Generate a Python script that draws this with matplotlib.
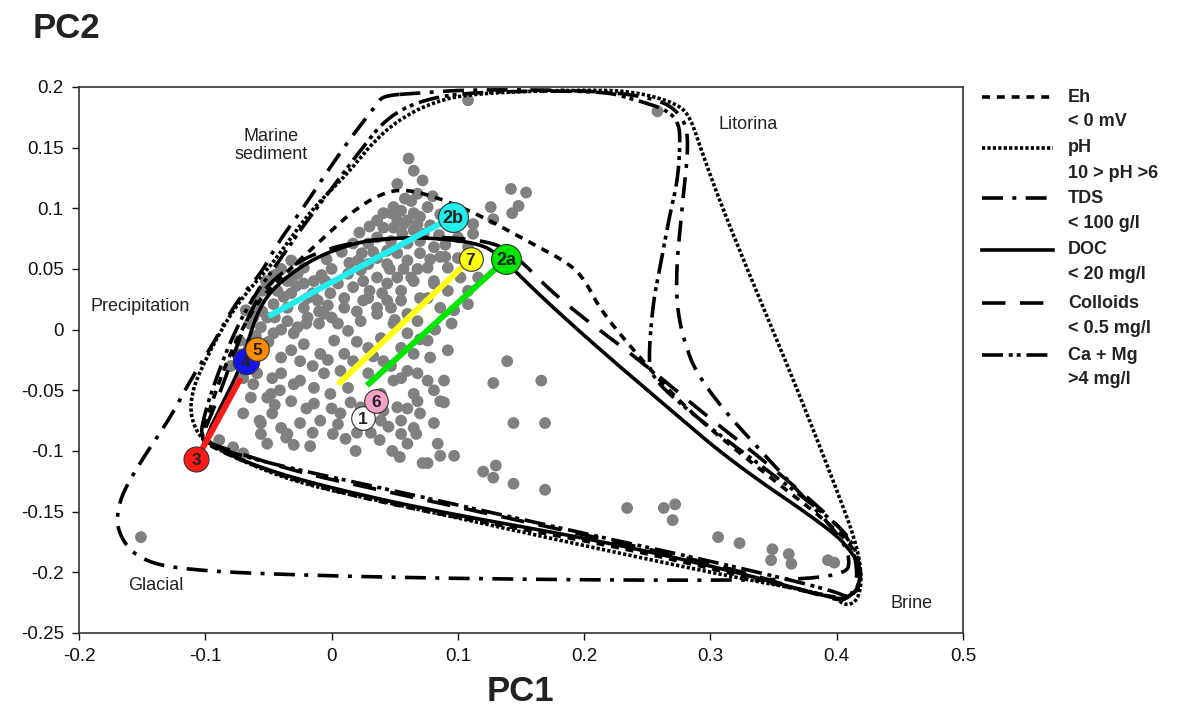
import numpy as np
import matplotlib.pyplot as plt
from matplotlib.lines import Line2D

plt.rcParams['font.family'] = ['Liberation Sans', 'DejaVu Sans']

# groundwater sample scores on the first two principal components
pc1 = [-0.151, 0.108, 0.258,
       0.061, 0.065, 0.052, 0.068, 0.063, 0.047, 0.055, 0.065, 0.076, 0.057,
       0.068, 0.073, 0.049, 0.041, 0.036, 0.041, 0.049, 0.052, 0.060, 0.065,
       0.036, 0.029, 0.047, 0.060, 0.070, 0.081, 0.017, 0.021, 0.029, 0.036,
       0.044, 0.052, 0.060, 0.063, 0.052, 0.044, 0.036, 0.025, 0.017, 0.010,
       0.025, 0.036, 0.047, 0.055, 0.060,
       0.142, 0.154, 0.126, 0.148, 0.143, 0.128, 0.112, 0.112, 0.100, 0.108,
       0.100, 0.092, 0.102, 0.116, 0.108, 0.092, 0.081, 0.076, 0.086, 0.097,
       0.108, 0.068, 0.060, 0.076, 0.055, 0.065, 0.092, 0.089, 0.081, 0.068,
       0.055, 0.068, 0.086, 0.070, 0.055, 0.039, 0.041, 0.139, 0.166, 0.128,
       0.144, 0.169, 0.089, 0.060, 0.067, 0.084, 0.086, 0.097, 0.076, 0.120,
       0.130, 0.128, 0.144, 0.169, 0.234, 0.263, 0.272, 0.270, 0.306, 0.323,
       0.349, 0.348, 0.362, 0.364, 0.393, 0.398,
       -0.032, -0.022, -0.027, -0.035, -0.022, -0.014, -0.043, -0.032, -0.019, -0.046,
       -0.035, -0.022, -0.011, -0.001, 0.005, 0.013, 0.023, 0.029, 0.010, -0.006,
       -0.019, -0.035, -0.051, -0.056, -0.046, -0.030, -0.022, -0.032, -0.040, -0.025,
       -0.009, 0.002, 0.013, 0.023, 0.036, 0.044, 0.055, 0.065, 0.076, 0.081,
       0.070, 0.049, 0.039, 0.029, 0.017, 0.007, -0.006, -0.014, -0.025, -0.040,
       -0.048, -0.032, -0.014, -0.001, 0.013, 0.029, 0.041, 0.078, 0.060, 0.049,
       0.039, 0.023, 0.007, -0.009, -0.025, -0.040, -0.056, -0.064, -0.059, -0.070,
       -0.056, -0.035, 0.052, 0.065, 0.076, 0.081, 0.065, 0.055,
       -0.059, -0.065, -0.073, -0.047, -0.041, -0.051, -0.047, -0.057, -0.051, -0.089,
       -0.078, -0.070, -0.036, 0.001, 0.011, 0.038, 0.048, 0.054, 0.072, -0.017,
       0.019, 0.031, -0.055, -0.050, -0.060, -0.068, -0.075, -0.080,
       0.072, 0.058, 0.070, 0.078, 0.085, 0.090, 0.056, 0.044, 0.033, 0.024,
       0.070, 0.078, 0.086, 0.046, 0.057, 0.068, 0.030, 0.040, 0.050, 0.020,
       0.014, 0.008, 0.000, -0.008, -0.004, 0.030, 0.022, 0.080, 0.086, 0.098,
       -0.040, -0.045, -0.052, -0.038, -0.028, -0.015, -0.005, -0.010, -0.003, 0.005,
       -0.027, -0.040, -0.050, -0.060, -0.015, -0.030, -0.045, -0.020, 0.000, 0.015,
       0.005, -0.015, -0.030, 0.020, 0.045, 0.060, 0.047, 0.033, 0.020, 0.010,
       -0.003, 0.070, 0.082, 0.095, 0.090,
       -0.055, -0.062, -0.066, -0.070, -0.062, -0.045, -0.030, -0.020, -0.010, 0.000]
pc2 = [-0.171, 0.189, 0.180,
       0.141, 0.131, 0.120, 0.112, 0.106, 0.096, 0.098, 0.096, 0.101, 0.087,
       0.087, 0.079, 0.084, 0.084, 0.090, 0.096, 0.101, 0.090, 0.090, 0.082,
       0.076, 0.071, 0.073, 0.071, 0.073, 0.068, 0.071, 0.057, 0.054, 0.059,
       0.054, 0.063, 0.057, 0.043, 0.043, 0.038, 0.043, 0.040, 0.035, 0.026,
       0.024, 0.018, 0.018, 0.024, 0.013,
       0.116, 0.113, 0.101, 0.102, 0.096, 0.091, 0.087, 0.079, 0.076, 0.068,
       0.059, 0.051, 0.043, 0.043, 0.032, 0.032, 0.038, 0.026, 0.018, 0.016,
       0.021, 0.007, -0.003, -0.009, -0.015, -0.020, -0.017, -0.042, -0.050, -0.036,
       -0.040, -0.059, -0.059, -0.069, -0.075, -0.075, -0.067, -0.026, -0.042, -0.044,
       -0.077, -0.077, -0.060, -0.094, -0.086, -0.094, -0.104, -0.104, -0.110, -0.117,
       -0.112, -0.122, -0.127, -0.132, -0.147, -0.147, -0.144, -0.157, -0.171, -0.176,
       -0.181, -0.190, -0.185, -0.193, -0.190, -0.192,
       0.057, 0.051, 0.046, 0.040, 0.038, 0.040, 0.032, 0.030, 0.026, 0.021,
       0.018, 0.018, 0.024, 0.030, 0.038, 0.046, 0.049, 0.026, 0.018, 0.013,
       0.010, 0.007, 0.010, 0.002, -0.003, -0.003, -0.012, -0.017, -0.023, -0.026,
       -0.020, -0.009, -0.001, 0.007, 0.013, 0.024, 0.032, 0.040, 0.051, 0.040,
       0.026, 0.005, -0.007, -0.015, -0.026, -0.034, -0.036, -0.048, -0.042, -0.036,
       -0.053, -0.059, -0.061, -0.053, -0.048, -0.036, -0.026, -0.023, -0.034, -0.042,
       -0.053, -0.064, -0.069, -0.075, -0.077, -0.081, -0.077, -0.056, -0.036, -0.069,
       -0.086, -0.086, -0.064, -0.053, -0.042, -0.077, -0.081, -0.086,
       0.018, 0.005, -0.009, -0.040, -0.050, -0.056, -0.069, -0.075, -0.094, -0.091,
       -0.097, -0.102, -0.089, -0.086, -0.090, -0.091, -0.100, -0.105, -0.110, -0.096,
       -0.100, -0.085, 0.032, 0.040, 0.024, 0.016, -0.020, -0.030,
       0.123, 0.108, 0.093, 0.086, 0.078, 0.070, 0.079, 0.065, 0.064, 0.063,
       0.063, 0.058, 0.060, 0.050, 0.050, 0.050, 0.032, 0.030, 0.008, 0.015,
       0.055, 0.064, 0.050, 0.045, 0.058, 0.085, 0.080, 0.110, 0.095, 0.088,
       0.050, 0.045, 0.040, 0.027, 0.036, 0.030, 0.040, 0.005, 0.020, 0.005,
       0.002, 0.000, -0.010, -0.005, -0.030, -0.045, -0.062, -0.065, -0.065, -0.060,
       -0.078, -0.085, -0.095, -0.085, -0.080, -0.065, -0.030, -0.022, -0.010, -0.020,
       -0.025, -0.008, 0.000, 0.005, 0.060,
       0.015, 0.010, -0.012, -0.040, -0.045, 0.010, 0.045, 0.005, 0.015, 0.010]

# envelopes of the parameter limits (PC1, PC2 vertices)
eh_env = [(-0.104, -0.090), (-0.097, -0.067), (-0.086, -0.034), (-0.072, -0.001),
          (-0.055, 0.028), (-0.032, 0.051), (-0.006, 0.076), (0.017, 0.098),
          (0.039, 0.112), (0.057, 0.116), (0.084, 0.109), (0.118, 0.094),
          (0.155, 0.073), (0.189, 0.054), (0.201, 0.040), (0.213, 0.016),
          (0.239, -0.017), (0.279, -0.064), (0.340, -0.116), (0.397, -0.162),
          (0.415, -0.182), (0.420, -0.203), (0.415, -0.219), (0.399, -0.222),
          (0.318, -0.201), (0.213, -0.176), (0.078, -0.151), (-0.015, -0.129),
          (-0.067, -0.110), (-0.096, -0.096)]
ph_env = [(-0.100, -0.093), (-0.108, -0.082), (-0.112, -0.067), (-0.110, -0.050),
          (-0.104, -0.034), (-0.092, -0.009), (-0.078, 0.016), (-0.063, 0.036),
          (-0.048, 0.053), (-0.032, 0.076), (-0.014, 0.101), (0.013, 0.129),
          (0.029, 0.150), (0.049, 0.170), (0.076, 0.186), (0.110, 0.195),
          (0.213, 0.198), (0.245, 0.195), (0.274, 0.186), (0.284, 0.175),
          (0.292, 0.150), (0.308, 0.104), (0.333, 0.040), (0.366, -0.042),
          (0.397, -0.124), (0.415, -0.174), (0.420, -0.203), (0.417, -0.223),
          (0.407, -0.228), (0.397, -0.219), (0.318, -0.204), (0.213, -0.181),
          (0.055, -0.145), (-0.025, -0.127), (-0.072, -0.108)]
tds_env = [(0.041, 0.193), (0.070, 0.195), (0.110, 0.198), (0.213, 0.197),
           (0.260, 0.190), (0.278, 0.176), (0.283, 0.156), (0.278, 0.106),
           (0.272, 0.040), (0.276, -0.001), (0.292, -0.045), (0.359, -0.122),
           (0.397, -0.163), (0.411, -0.186), (0.407, -0.205), (0.292, -0.207),
           (0.078, -0.205), (-0.067, -0.201), (-0.120, -0.197), (-0.144, -0.192),
           (-0.160, -0.182), (-0.169, -0.166), (-0.170, -0.152), (-0.165, -0.133),
           (-0.147, -0.102), (-0.128, -0.073), (-0.112, -0.042), (-0.094, -0.012),
           (-0.075, 0.024), (-0.056, 0.046), (-0.043, 0.071), (-0.022, 0.101),
           (-0.003, 0.131), (0.015, 0.158), (0.036, 0.186)]
doc_env = [(-0.100, -0.090), (-0.088, -0.064), (-0.072, -0.031), (-0.063, 0.002),
           (-0.054, 0.024), (-0.040, 0.040), (-0.014, 0.059), (0.017, 0.071),
           (0.039, 0.075), (0.078, 0.076), (0.118, 0.071), (0.134, 0.060),
           (0.165, 0.028), (0.213, -0.017), (0.266, -0.064), (0.318, -0.110),
           (0.397, -0.166), (0.413, -0.185), (0.419, -0.197), (0.417, -0.214),
           (0.407, -0.222), (0.395, -0.221), (0.318, -0.199), (0.213, -0.174),
           (0.078, -0.149), (-0.015, -0.127), (-0.067, -0.110), (-0.097, -0.094)]
colloid_env = [(-0.104, -0.091), (-0.094, -0.067), (-0.082, -0.034), (-0.068, 0.007),
               (-0.055, 0.032), (-0.036, 0.050), (-0.009, 0.065), (0.023, 0.073),
               (0.078, 0.077), (0.126, 0.073), (0.146, 0.061), (0.181, 0.024),
               (0.245, -0.026), (0.292, -0.067), (0.340, -0.106), (0.397, -0.156),
               (0.413, -0.178), (0.417, -0.207), (0.409, -0.223), (0.395, -0.222),
               (0.318, -0.197), (0.213, -0.172), (0.055, -0.136), (-0.025, -0.118),
               (-0.076, -0.101)]
camg_env = [(-0.105, -0.092), (-0.100, -0.067), (-0.092, -0.042), (-0.080, -0.009),
            (-0.064, 0.024), (-0.044, 0.053), (-0.025, 0.082), (-0.001, 0.115),
            (0.023, 0.148), (0.043, 0.174), (0.070, 0.189), (0.110, 0.196),
            (0.213, 0.197), (0.239, 0.190), (0.266, 0.181), (0.275, 0.170),
            (0.276, 0.154), (0.274, 0.123), (0.268, 0.096), (0.260, 0.051),
            (0.255, 0.026), (0.251, -0.020), (0.253, -0.040), (0.292, -0.075),
            (0.340, -0.112), (0.397, -0.157), (0.415, -0.178), (0.419, -0.207),
            (0.411, -0.222), (0.397, -0.215), (0.318, -0.195), (0.213, -0.171),
            (0.055, -0.134), (-0.025, -0.116), (-0.072, -0.104)]

env_names = ['Eh', 'pH', 'TDS', 'DOC', 'Colloids', 'Ca + Mg']
env_limits = ['< 0 mV', '10 > pH >6', '< 100 g/l', '< 20 mg/l', '< 0.5 mg/l', '>4 mg/l']

# end members
member_labels = ['1', '2a', '2b', '3', '4', '5', '6', '7']
member_pc1 = [0.025, 0.138, 0.096, -0.107, -0.068, -0.059, 0.035, 0.110]
member_pc2 = [-0.073, 0.058, 0.093, -0.107, -0.026, -0.016, -0.059, 0.058]
member_colors = ['white', '#00e600', '#22eeee', '#ff1a1a', '#1414e6', '#ff8a00', '#f4a3c8', '#ffff10']

# mixing lines: (start, end member)
mix_start_pc1 = [-0.050, 0.028, 0.005, -0.072]
mix_start_pc2 = [0.011, -0.046, -0.045, -0.040]
mix_end = ['2b', '2a', '7', '3']


def chaikin(pts, n=3):
    p = np.asarray(pts, float)
    for _ in range(n):
        nxt = np.roll(p, -1, axis=0)
        q = np.empty((2 * len(p), 2))
        q[0::2] = 0.75 * p + 0.25 * nxt
        q[1::2] = 0.25 * p + 0.75 * nxt
        p = q
    return np.vstack([p, p[:1]])


lw = 2.6
styles = [(0, (2.2, 1.9)),
          (0, (0.9, 0.6)),
          (0, (5.8, 2.6, 1.1, 2.6)),
          '-',
          (0, (6.5, 4.0)),
          (0, (5.8, 1.6, 1.1, 1.1, 1.1, 1.6))]
envs = [eh_env, ph_env, tds_env, doc_env, colloid_env, camg_env]

fig = plt.figure(figsize=(11.94, 7.10), dpi=100)
ax = fig.add_axes([0.0662, 0.1085, 0.7404, 0.769])

ax.scatter(pc1, pc2, s=72, color='#808080', edgecolors='none', zorder=2)

for env, ls in zip(envs, styles):
    c = chaikin(env)
    ax.plot(c[:, 0], c[:, 1], color='black', lw=lw, linestyle=ls, zorder=3)

mix_colors = {'2b': '#22eeee', '2a': '#00e600', '7': '#ffff10', '3': '#ff1a1a'}
for x0, y0, m in zip(mix_start_pc1, mix_start_pc2, mix_end):
    i = member_labels.index(m)
    ax.plot([x0, member_pc1[i]], [y0, member_pc2[i]], color=mix_colors[m],
            lw=4.3, solid_capstyle='butt', zorder=4)

sizes = {'1': 17, '2a': 21.5, '2b': 21.5, '3': 18, '4': 19, '5': 17, '6': 17, '7': 17}
order = ['1', '6', '2b', '2a', '7', '3', '4', '5']
for k, m in enumerate(order):
    i = member_labels.index(m)
    ax.plot(member_pc1[i], member_pc2[i], 'o', ms=sizes[m], mfc=member_colors[i],
            mec='#333333', mew=0.8, zorder=5 + k * 0.1)
    ax.text(member_pc1[i], member_pc2[i] - 0.001, m, ha='center', va='center',
            fontsize=13 if len(m) > 1 else 12.5, fontweight='bold', color='#222222',
            zorder=5.05 + k * 0.1)

# region names
ax.text(-0.048, 0.152, 'Marine\nsediment', ha='center', va='center', fontsize=13,
        color='#222222', linespacing=1.05)
ax.text(-0.191, 0.019, 'Precipitation', ha='left', va='center', fontsize=13, color='#222222')
ax.text(0.330, 0.169, 'Litorina', ha='center', va='center', fontsize=13, color='#222222')
ax.text(-0.139, -0.211, 'Glacial', ha='center', va='center', fontsize=13, color='#222222')
ax.text(0.459, -0.226, 'Brine', ha='center', va='center', fontsize=13, color='#222222')

ax.set_xlim(-0.2, 0.5)
ax.set_ylim(-0.25, 0.2)
xt = [-0.2, -0.1, 0, 0.1, 0.2, 0.3, 0.4, 0.5]
yt = [-0.25, -0.2, -0.15, -0.1, -0.05, 0, 0.05, 0.1, 0.15, 0.2]
ax.set_xticks(xt)
ax.set_xticklabels(['-0.2', '-0.1', '0', '0.1', '0.2', '0.3', '0.4', '0.5'])
ax.set_yticks(yt)
ax.set_yticklabels(['-0.25', '-0.2', '-0.15', '-0.1', '-0.05', '0', '0.05', '0.1', '0.15', '0.2'])
ax.tick_params(labelsize=13.5, length=5, width=1, direction='out', pad=6, colors='#111111')
for sp in ax.spines.values():
    sp.set_linewidth(1.2)
    sp.set_color('#333333')

fig.text(0.027, 0.946, 'PC2', fontsize=25, fontweight='bold', color='#222222', va='baseline')
fig.text(0.436, 0.012, 'PC1', fontsize=25, fontweight='bold', color='#222222',
         ha='center', va='baseline')

# legend drawn beside the axes
row_y = [97, 148, 198, 250, 303, 355]
for name, lim, ls, yy in zip(env_names, env_limits, styles, row_y):
    fy = 1 - yy / 710
    fig.add_artist(Line2D([982 / 1194, 1053 / 1194], [fy, fy], transform=fig.transFigure,
                          color='black', lw=lw, linestyle=ls))
    fig.text(1068 / 1194, fy, name, fontsize=13, fontweight='bold', va='center',
             color='#222222')
    fig.text(1068 / 1194, 1 - (yy + 25) / 710, lim, fontsize=13, fontweight='bold',
             va='center', color='#222222')

fig.savefig('out.png', dpi=100)
